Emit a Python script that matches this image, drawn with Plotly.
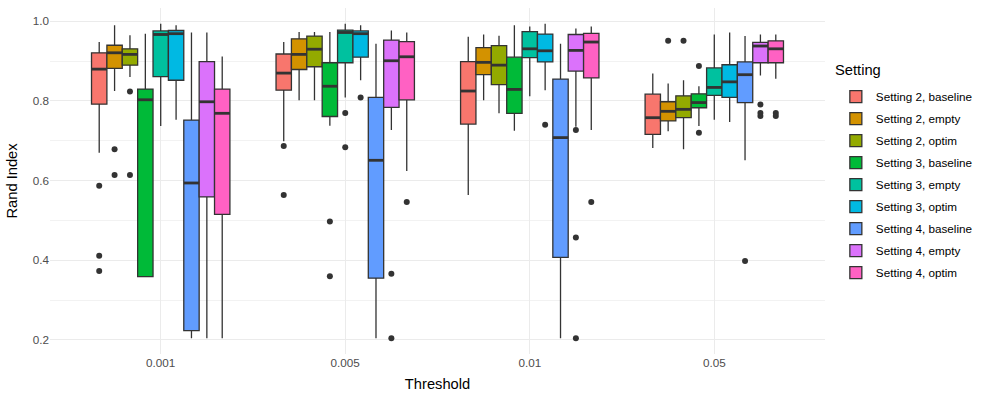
import plotly.graph_objects as go

thresholds = ["0.001", "0.005", "0.01", "0.05"]
settings = ["Setting 2, baseline", "Setting 2, empty", "Setting 2, optim",
            "Setting 3, baseline", "Setting 3, empty", "Setting 3, optim",
            "Setting 4, baseline", "Setting 4, empty", "Setting 4, optim"]
colors = ["#F8766D", "#D39200", "#93AA00", "#00BA38", "#00C19F",
          "#00B9E3", "#619CFF", "#DB72FB", "#FF61C3"]

upper = [
    [0.948, 0.948, 0.961, 0.869],
    [0.990, 0.973, 0.967, 0.844],
    [0.965, 0.973, 0.964, 0.852],
    [0.969, 0.973, 0.990, 0.837],
    [0.994, 0.994, 0.987, 0.967],
    [0.990, 0.990, 0.994, 0.972],
    [0.972, 0.944, 0.944, 0.963],
    [0.972, 0.977, 0.982, 0.967],
    [0.912, 0.972, 0.987, 0.967],
]
q3 = [
    [0.921, 0.918, 0.899, 0.817],
    [0.940, 0.956, 0.934, 0.798],
    [0.931, 0.963, 0.939, 0.813],
    [0.830, 0.896, 0.910, 0.818],
    [0.976, 0.978, 0.974, 0.883],
    [0.977, 0.976, 0.968, 0.891],
    [0.752, 0.809, 0.855, 0.898],
    [0.899, 0.953, 0.967, 0.947],
    [0.830, 0.949, 0.970, 0.951],
]
median = [
    [0.880, 0.870, 0.825, 0.758],
    [0.921, 0.917, 0.897, 0.774],
    [0.917, 0.930, 0.890, 0.779],
    [0.803, 0.837, 0.829, 0.796],
    [0.967, 0.972, 0.931, 0.834],
    [0.969, 0.969, 0.926, 0.848],
    [0.594, 0.651, 0.708, 0.866],
    [0.798, 0.901, 0.927, 0.938],
    [0.769, 0.911, 0.948, 0.931],
]
q1 = [
    [0.792, 0.827, 0.742, 0.716],
    [0.882, 0.879, 0.866, 0.750],
    [0.890, 0.886, 0.841, 0.758],
    [0.359, 0.761, 0.769, 0.783],
    [0.861, 0.896, 0.909, 0.814],
    [0.852, 0.910, 0.898, 0.809],
    [0.223, 0.355, 0.407, 0.796],
    [0.559, 0.784, 0.875, 0.896],
    [0.515, 0.803, 0.858, 0.896],
]
lower = [
    [0.670, 0.699, 0.564, 0.682],
    [0.825, 0.802, 0.802, 0.724],
    [0.860, 0.802, 0.769, 0.679],
    [0.359, 0.738, 0.725, 0.737],
    [0.737, 0.809, 0.812, 0.753],
    [0.753, 0.852, 0.827, 0.747],
    [0.204, 0.204, 0.204, 0.651],
    [0.204, 0.727, 0.735, 0.864],
    [0.204, 0.624, 0.727, 0.856],
]
outliers = [
    [[0.587, 0.411, 0.373], [0.687, 0.564], [], []],
    [[0.679, 0.614], [], [], [0.951]],
    [[0.824, 0.614], [], [], [0.951]],
    [[], [0.497, 0.360], [], [0.888, 0.720]],
    [[], [0.770, 0.684], [], []],
    [[], [0.809], [0.740], []],
    [[], [], [], [0.398]],
    [[], [0.366, 0.204], [0.727, 0.457, 0.204], [0.791, 0.770, 0.762]],
    [[], [0.546], [0.546], [0.770, 0.762]],
]

n = len(settings)
dodge = 0.75
bw = dodge / n
cat_pos = list(range(1, len(thresholds) + 1))
edge = "#333333"
FONT = "Liberation Sans, Arial, sans-serif"

fig = go.Figure()
for i, s in enumerate(settings):
    off = (i - (n - 1) / 2) * bw
    xs = [c + off for c in cat_pos]
    fig.add_trace(go.Box(
        name=s, x=xs, q1=q1[i], median=median[i], q3=q3[i],
        lowerfence=lower[i], upperfence=upper[i],
        width=bw, whiskerwidth=0, boxpoints=False,
        fillcolor=colors[i], line=dict(color=edge, width=1.3),
        legendgroup=s, hoverinfo="skip",
    ))
for i, s in enumerate(settings):
    off = (i - (n - 1) / 2) * bw
    mx, my = [], []
    ox, oy = [], []
    for j, c in enumerate(cat_pos):
        mx += [c + off - bw / 2, c + off + bw / 2, None]
        my += [median[i][j], median[i][j], None]
        for v in outliers[i][j]:
            ox.append(c + off)
            oy.append(v)
    fig.add_trace(go.Scatter(x=mx, y=my, mode="lines",
                             line=dict(color=edge, width=2.8),
                             showlegend=False, legendgroup=s, hoverinfo="skip"))
    fig.add_trace(go.Scatter(x=ox, y=oy, mode="markers",
                             marker=dict(color=edge, size=6),
                             showlegend=False, legendgroup=s, hoverinfo="skip"))

fig.update_layout(
    width=997, height=399,
    paper_bgcolor="white", plot_bgcolor="white",
    margin=dict(l=50, r=172, t=8, b=45),
    font=dict(family=FONT, color="#000000"),
    boxmode="overlay",
    showlegend=True,
    legend=dict(
        font=dict(size=11.7, color="#000000"),
        x=1.014, xanchor="left", y=0.786, yanchor="top",
        tracegroupgap=3, itemwidth=30,
        bgcolor="rgba(0,0,0,0)",
    ),
    annotations=[dict(
        text="Setting", xref="paper", yref="paper", x=1.0103, y=0.8208,
        xanchor="left", yanchor="middle", showarrow=False,
        font=dict(size=14.7, color="#000000"),
    )],
    xaxis=dict(
        range=[0.4, len(thresholds) + 0.6],
        tickmode="array", tickvals=cat_pos, ticktext=thresholds,
        showgrid=True, gridcolor="#EBEBEB", gridwidth=1.1,
        zeroline=False, showline=False, ticks="",
        tickfont=dict(size=11.7, color="#4D4D4D"),
        title=dict(text="Threshold", font=dict(size=14.7, color="#000000"), standoff=11),
        automargin=False,
    ),
    yaxis=dict(
        range=[0.1645, 1.0335],
        tickmode="array", tickvals=[0.2, 0.4, 0.6, 0.8, 1.0],
        ticktext=["0.2", "0.4", "0.6", "0.8", "1.0"],
        showgrid=True, gridcolor="#EBEBEB", gridwidth=1.1,
        minor=dict(tickvals=[0.3, 0.5, 0.7, 0.9], showgrid=True,
                   gridcolor="#F2F2F2", gridwidth=0.6, ticks=""),
        zeroline=False, showline=False, ticks="",
        tickfont=dict(size=11.7, color="#4D4D4D"),
        title=dict(text="Rand Index", font=dict(size=14.7, color="#000000"), standoff=11),
        automargin=False,
    ),
)

fig.write_html("out.html", config={"displayModeBar": False},
               post_script="document.body.style.margin='0';document.body.style.overflow='hidden';")
